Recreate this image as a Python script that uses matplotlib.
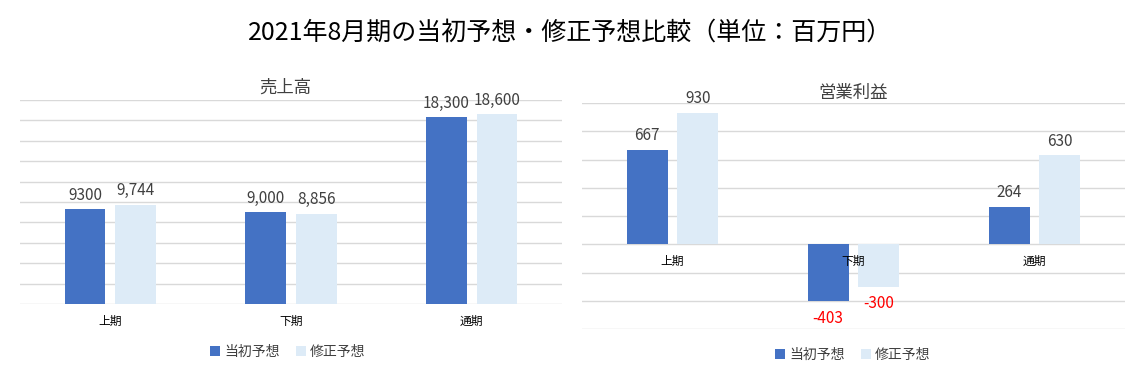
import matplotlib
matplotlib.use("Agg")
import matplotlib.pyplot as plt
import numpy as np

plt.rcParams['font.family'] = ['Noto Sans CJK JP', 'DejaVu Sans']

# ---- data ----
categories = ['上期', '下期', '通期']
series_names = ['当初予想', '修正予想']
sales_initial = [9300, 9000, 18300]
sales_revised = [9744, 8856, 18600]
sales_initial_labels = ['9300', '9,000', '18,300']
sales_revised_labels = ['9,744', '8,856', '18,600']
op_initial = [667, -403, 264]
op_revised = [930, -300, 630]
op_initial_labels = ['667', '-403', '264']
op_revised_labels = ['930', '-300', '630']

main_title = '2021年8月期の当初予想・修正予想比較（単位：百万円）'
sales_title = '売上高'
op_title = '営業利益'

c_blue = '#4472C4'
c_light = '#DDEBF7'
grid_c = '#D9D9D9'
label_c = '#404040'

W, H = 1140, 377
fig = plt.figure(figsize=(W / 100, H / 100), dpi=100)

def px_axes(x0, x1, ytop, ybot):
    return fig.add_axes([x0 / W, (H - ybot) / H, (x1 - x0) / W, (ybot - ytop) / H])

ax1 = px_axes(20, 562, 100, 304)
ax2 = px_axes(582, 1125, 103, 329)

x = np.arange(len(categories))
bw = 0.225
off = 0.14

def draw(ax, init, rev, init_lbl, rev_lbl, ylo, yhi, step):
    b1 = ax.bar(x - off, init, bw, color=c_blue, zorder=2, label=series_names[0])
    b2 = ax.bar(x + off, rev, bw, color=c_light, zorder=2, label=series_names[1])
    ax.set_ylim(ylo, yhi)
    ax.set_xlim(-0.5, len(categories) - 0.5)
    for yv in np.arange(ylo, yhi + step / 2, step):
        ax.axhline(yv, color=grid_c, lw=1.0, zorder=1)
    for bars, vals, lbls in ((b1, init, init_lbl), (b2, rev, rev_lbl)):
        for bar, v, l in zip(bars, vals, lbls):
            cx = bar.get_x() + bar.get_width() / 2
            if v >= 0:
                ax.annotate(l, (cx, v), xytext=(0, 4), textcoords='offset points',
                            ha='center', va='bottom', fontsize=11, color=label_c)
            else:
                ax.annotate(l, (cx, v), xytext=(0, -6), textcoords='offset points',
                            ha='center', va='top', fontsize=11, color='#FF0000')
    ax.set_yticks([])
    for s in ax.spines.values():
        s.set_visible(False)
    ax.spines['bottom'].set_position(('data', 0))
    ax.set_xticks(x)
    ax.set_xticklabels(categories, fontsize=8.5, color='#000000')
    ax.tick_params(axis='x', length=0, pad=8)
    ax.xaxis.set_zorder(5)
    ax.set_facecolor('none')
    return b1, b2

h1 = draw(ax1, sales_initial, sales_revised, sales_initial_labels, sales_revised_labels, 0, 20000, 2000)
h2 = draw(ax2, op_initial, op_revised, op_initial_labels, op_revised_labels, -600, 1000, 200)

fig.text(570 / W, 1 - 33 / H, main_title, ha='center', va='center', fontsize=18, color='#000000')
fig.text(285 / W, 1 - 88 / H, sales_title, ha='center', va='center', fontsize=12.5, color=label_c)
fig.text(853 / W, 1 - 93 / H, op_title, ha='center', va='center', fontsize=12.5, color=label_c)

for (b1, b2), cx, cy in ((h1, 288, 352), (h2, 853, 355)):
    fig.legend([b1, b2], series_names, loc='center', bbox_to_anchor=(cx / W, 1 - cy / H),
               ncol=2, frameon=False, fontsize=10, handlelength=0.7, handleheight=0.7,
               handletextpad=0.3, columnspacing=1.2, labelcolor=label_c)

fig.savefig('out.png', dpi=100)
